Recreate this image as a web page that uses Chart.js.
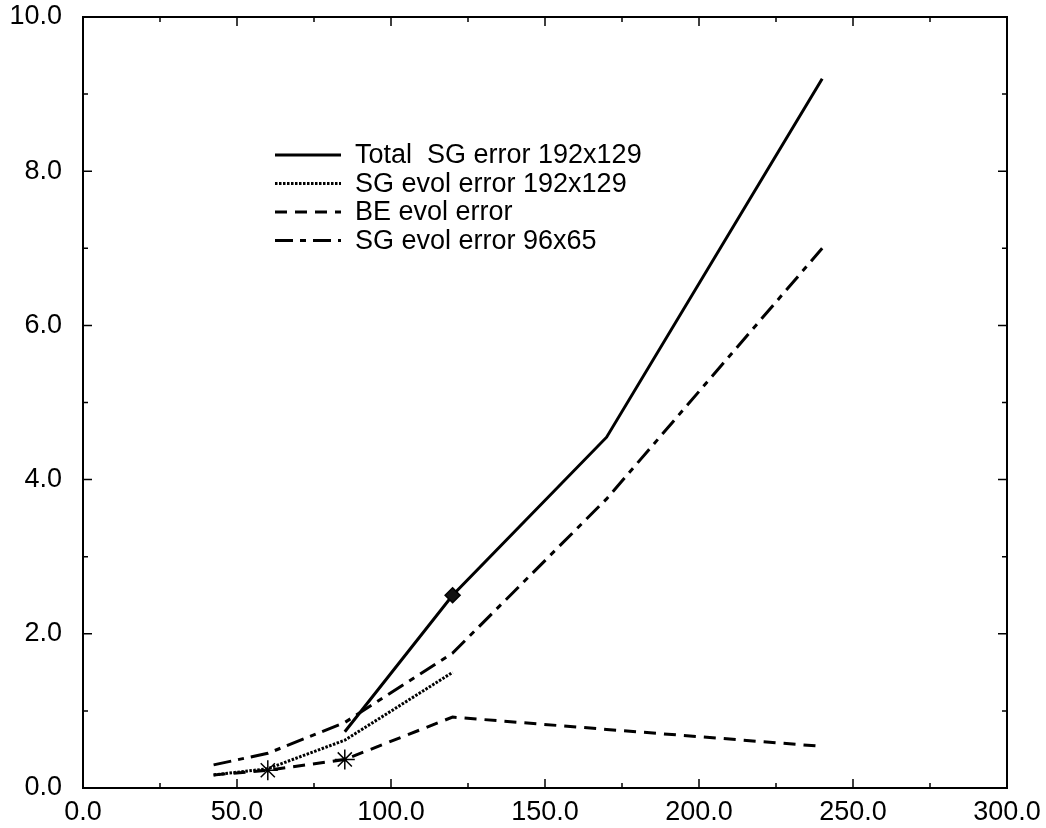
<!DOCTYPE html>
<html>
<head>
<meta charset="utf-8">
<script src="https://cdn.jsdelivr.net/npm/chart.js@4/dist/chart.umd.min.js"></script>
<style>
html,body{margin:0;padding:0;background:#fff;}
canvas{display:block;}
</style>
</head>
<body>
<canvas id="c" width="1046" height="828"></canvas>
<script>
// ---- data ----
const seriesLabels = ["Total  SG error 192x129", "SG evol error 192x129", "BE evol error", "SG evol error 96x65"];

const xTotal = [85, 120, 170, 240];
const yTotal = [0.73, 2.5, 4.55, 9.2];

const xSGevol = [42.4, 60, 85, 120];
const ySGevol = [0.17, 0.25, 0.62, 1.5];

const xBE = [42.4, 60, 85, 120, 170, 240];
const yBE = [0.17, 0.23, 0.37, 0.92, 0.76, 0.54];

const xSG96 = [42.4, 60, 85, 120, 170, 240];
const ySG96 = [0.3, 0.45, 0.85, 1.75, 3.75, 7.0];

const xMajorTicks = [0, 50, 100, 150, 200, 250, 300];
const xMinorTicks = [25, 75, 125, 175, 225, 275];
const yMajorTicks = [0, 2, 4, 6, 8, 10];
const yMinorTicks = [1, 3, 5, 7, 9];

const pts = (xs, ys) => xs.map((x, i) => ({x: x, y: ys[i]}));
const FONT = '"Liberation Sans", Arial, Helvetica, sans-serif';

const datasets = [
  {
    label: seriesLabels[0],
    data: pts(xTotal, yTotal),
    borderColor: '#000', borderWidth: 3, borderDash: [],
    pointRadius: [0, 7.5, 0, 0],
    pointStyle: 'rectRot',
    pointBackgroundColor: '#111', pointBorderColor: '#000', pointBorderWidth: 1.5
  },
  {
    label: seriesLabels[1],
    data: pts(xSGevol, ySGevol),
    borderColor: '#000', borderWidth: 3, borderDash: [2.5, 1.5],
    pointRadius: 0
  },
  {
    label: seriesLabels[2],
    data: pts(xBE, yBE),
    borderColor: '#000', borderWidth: 3, borderDash: [12, 8],
    pointRadius: [0, 10, 10, 0, 0, 0],
    pointStyle: 'star',
    pointBorderColor: '#000', pointBorderWidth: 1.5
  },
  {
    label: seriesLabels[3],
    data: pts(xSG96, ySG96),
    borderColor: '#000', borderWidth: 3, borderDash: [18, 7, 6, 7],
    pointRadius: 0
  }
];

const framePlugin = {
  id: 'frameTicks',
  afterDatasetsDraw(chart) {
    const ctx = chart.ctx, a = chart.chartArea;
    const xs = chart.scales.x, ys = chart.scales.y;
    ctx.save();
    ctx.strokeStyle = '#000';
    ctx.lineWidth = 2;
    ctx.setLineDash([]);
    ctx.strokeRect(a.left, a.top, a.right - a.left, a.bottom - a.top);
    ctx.lineWidth = 1.5;
    const tickX = (v, len) => {
      const p = xs.getPixelForValue(v);
      ctx.beginPath();
      ctx.moveTo(p, a.bottom); ctx.lineTo(p, a.bottom - len);
      ctx.moveTo(p, a.top); ctx.lineTo(p, a.top + len);
      ctx.stroke();
    };
    const tickY = (v, len) => {
      const p = ys.getPixelForValue(v);
      ctx.beginPath();
      ctx.moveTo(a.left, p); ctx.lineTo(a.left + len, p);
      ctx.moveTo(a.right, p); ctx.lineTo(a.right - len, p);
      ctx.stroke();
    };
    xMajorTicks.forEach(v => tickX(v, 9));
    xMinorTicks.forEach(v => tickX(v, 5));
    yMajorTicks.forEach(v => tickY(v, 9));
    yMinorTicks.forEach(v => tickY(v, 5));
    ctx.restore();
  },
  afterDraw(chart) {
    const ctx = chart.ctx, a = chart.chartArea;
    const x0 = a.left + 192, x1 = a.left + 258, tx = a.left + 272;
    const y0 = a.top + 138, dy = 28.5;
    ctx.save();
    ctx.font = '27px ' + FONT;
    ctx.fillStyle = '#000';
    ctx.textBaseline = 'middle';
    ctx.textAlign = 'left';
    chart.data.datasets.forEach((ds, i) => {
      const y = y0 + i * dy;
      ctx.strokeStyle = '#000';
      ctx.lineWidth = ds.borderWidth;
      ctx.setLineDash(ds.borderDash || []);
      ctx.beginPath();
      ctx.moveTo(x0, y); ctx.lineTo(x1, y);
      ctx.stroke();
      ctx.setLineDash([]);
      ctx.fillText(ds.label, tx, y + 1);
    });
    ctx.restore();
  }
};

new Chart(document.getElementById('c'), {
  type: 'line',
  data: { datasets: datasets },
  options: {
    responsive: false,
    animation: false,
    devicePixelRatio: 1,
    layout: { padding: { left: 0, right: 39, top: 17, bottom: 0 } },
    plugins: { legend: { display: false }, tooltip: { enabled: false } },
    elements: { line: { tension: 0, fill: false } },
    scales: {
      x: {
        type: 'linear', min: 0, max: 300,
        afterFit: s => { s.height = 40; s.paddingLeft = 0; s.paddingRight = 0; },
        afterBuildTicks: s => { s.ticks = xMajorTicks.map(v => ({value: v})); },
        grid: { display: false, drawTicks: false },
        border: { display: false },
        ticks: {
          color: '#000', padding: 8, maxRotation: 0, autoSkip: false,
          font: { family: FONT, size: 27 },
          callback: v => Number(v).toFixed(1)
        }
      },
      y: {
        type: 'linear', min: 0, max: 10,
        afterFit: s => { s.width = 83; s.paddingTop = 0; s.paddingBottom = 0; },
        afterBuildTicks: s => { s.ticks = yMajorTicks.map(v => ({value: v})); },
        grid: { display: false, drawTicks: false },
        border: { display: false },
        ticks: {
          color: '#000', padding: 21,
          font: { family: FONT, size: 27 },
          callback: v => Number(v).toFixed(1)
        }
      }
    }
  },
  plugins: [framePlugin]
});
</script>
</body>
</html>
